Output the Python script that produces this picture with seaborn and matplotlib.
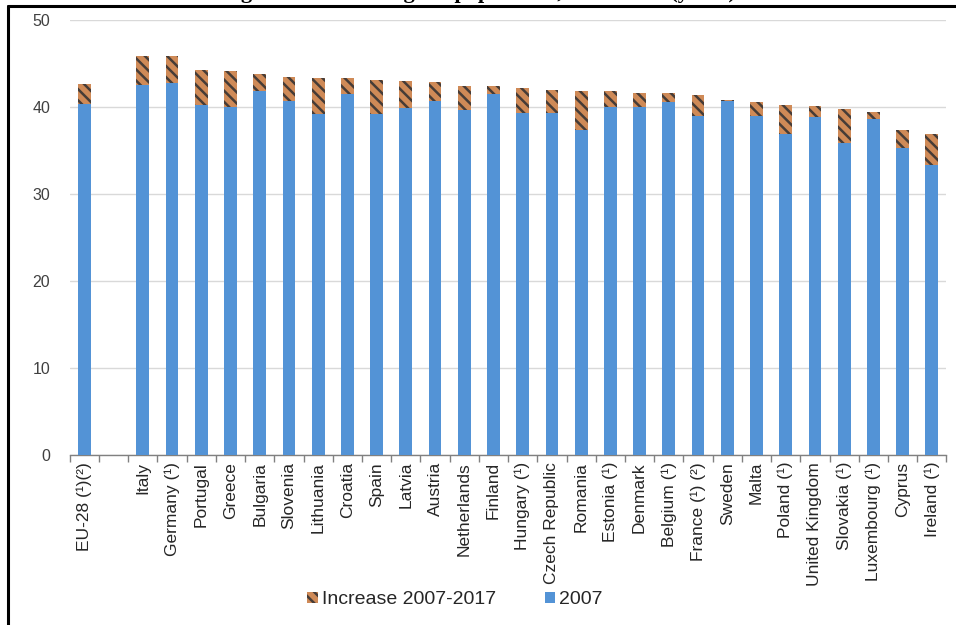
import matplotlib
matplotlib.use("Agg")
import matplotlib.pyplot as plt
import pandas as pd
import seaborn as sns
from matplotlib.patches import Patch
from matplotlib.lines import Line2D

# Median age of the population (years)
countries = [
    "EU-28 (¹)(²)", "Italy", "Germany (¹)", "Portugal", "Greece", "Bulgaria",
    "Slovenia", "Lithuania", "Croatia", "Spain", "Latvia", "Austria",
    "Netherlands", "Finland", "Hungary (¹)", "Czech Republic", "Romania",
    "Estonia (¹)", "Denmark", "Belgium (¹)", "France (¹) (²)", "Sweden",
    "Malta", "Poland (¹)", "United Kingdom", "Slovakia (¹)",
    "Luxembourg (¹)", "Cyprus", "Ireland (¹)",
]
median_2007 = [
    40.4, 42.5, 42.8, 40.2, 40.0, 41.8,
    40.7, 39.2, 41.5, 39.2, 39.9, 40.7,
    39.7, 41.5, 39.3, 39.3, 37.4,
    40.0, 40.0, 40.6, 39.0, 40.7,
    39.0, 36.9, 38.8, 35.9,
    38.6, 35.3, 33.3,
]
increase_2007_2017 = [
    2.3, 3.4, 3.1, 4.1, 4.1, 2.0,
    2.7, 4.1, 1.8, 3.9, 3.1, 2.2,
    2.7, 0.9, 2.9, 2.6, 4.4,
    1.8, 1.6, 1.0, 2.4, 0.1,
    1.6, 3.3, 1.3, 3.9,
    0.8, 2.1, 3.6,
]
legend_labels = ["Increase 2007-2017", "2007"]
title = "Figure 1: Median age of population, 2007-2017 (years)"

blue = "#5393d6"
tan = "#cf8a57"
stripe = "#463c37"
hatch = "\\\\\\"

df = pd.DataFrame({
    "country": countries,
    "y2007": median_2007,
    "increase": increase_2007_2017,
})
df["y2017"] = df["y2007"] + df["increase"]

# a blank slot separates the EU aggregate from the member states
order = [countries[0], " "] + countries[1:]

sns.set_theme(style="white")
plt.rcParams["font.family"] = ["Liberation Sans", "DejaVu Sans"]
plt.rcParams["hatch.linewidth"] = 1.8

fig = plt.figure(figsize=(9.56, 6.25), dpi=100)
ax = fig.add_axes([0.073, 0.272, 0.917, 0.696])

# 2017 level drawn hatched, then the 2007 level painted over it
sns.barplot(data=df, x="country", y="y2017", order=order, ax=ax,
            color=tan, saturation=1, width=0.44, errorbar=None,
            hatch=hatch, edgecolor=stripe, linewidth=0, zorder=2)
sns.barplot(data=df, x="country", y="y2007", order=order, ax=ax,
            color=blue, saturation=1, width=0.44, errorbar=None,
            linewidth=0, zorder=3)

ax.set_xlim(-0.5, len(order) - 0.5)
ax.set_ylim(0, 50)
ax.set_yticks(range(0, 51, 10))
ax.set_xlabel("")
ax.set_ylabel("")

ax.yaxis.grid(True, color="#d9d9d9", linewidth=1)
ax.set_axisbelow(True)
for side in ("left", "right", "top"):
    ax.spines[side].set_visible(False)
ax.spines["bottom"].set_color("#808080")
ax.spines["bottom"].set_linewidth(1)

ax.tick_params(axis="y", length=0, pad=14, labelsize=11.5, labelcolor="#404040")
ax.tick_params(axis="x", which="major", length=0, pad=5, labelsize=12.5,
               labelcolor="#262626")
ax.set_xticks([i - 0.5 for i in range(len(order) + 1)], minor=True)
ax.tick_params(axis="x", which="minor", length=5, width=1, color="#808080",
               direction="out", bottom=True)
plt.setp(ax.get_xticklabels(), rotation=90, ha="center", va="top")

handles = [
    Patch(facecolor=tan, edgecolor=stripe, hatch=hatch, linewidth=0),
    Patch(facecolor=blue, linewidth=0),
]
fig.legend(handles, legend_labels, loc="center", bbox_to_anchor=(0.476, 0.04),
           ncol=2, frameon=False, fontsize=14, handlelength=0.55,
           handleheight=0.55, handletextpad=0.2, columnspacing=2.5,
           labelcolor="#262626")

# heading and framing rules of the figure
fig.text(0.5, 1.003, title, ha="center", va="baseline", fontsize=16,
         fontweight="bold", family="Liberation Serif", color="black")
fig.add_artist(Line2D([8 / 956, 1.0], [1 - 6 / 625, 1 - 6 / 625],
                      transform=fig.transFigure, color="black", linewidth=2.2))
fig.add_artist(Line2D([8 / 956, 8 / 956], [0.0, 1 - 6 / 625],
                      transform=fig.transFigure, color="black", linewidth=2.2))

fig.savefig("out.png", dpi=100)
